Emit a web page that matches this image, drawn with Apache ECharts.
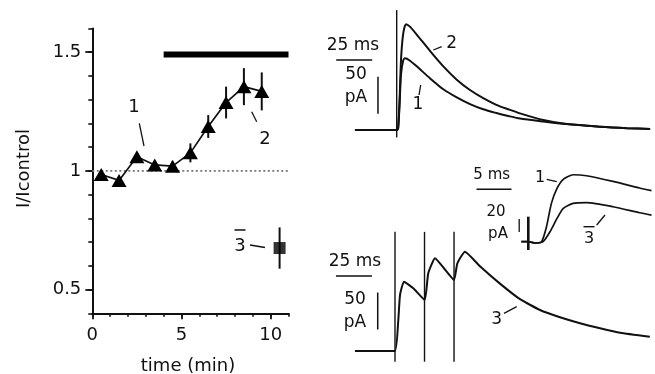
<!DOCTYPE html>
<html><head><meta charset="utf-8">
<script src="https://cdn.jsdelivr.net/npm/echarts@6/dist/echarts.min.js"></script>
<style>html,body{margin:0;padding:0;background:#fff}#c{width:655px;height:374px}</style>
</head><body><div id="c"></div>
<script>
// ---- left panel: I/Icontrol vs time ----
const timeMin = [0.5, 1.5, 2.5, 3.5, 4.5, 5.5, 6.5, 7.5, 8.5, 9.5];
const ratio = [0.985, 0.96, 1.06, 1.025, 1.02, 1.076, 1.187, 1.288, 1.355, 1.335];
const ratioErr = [0.015, 0.02, 0.015, 0.012, 0.02, 0.04, 0.048, 0.067, 0.078, 0.08];
const recoveryTime = [10.5];
const recoveryRatio = [0.675];
const recoveryErr = [0.087];
const drugBar = [4, 11];
const drugBarLevel = 1.49;
const controlLevel = 1;
const yTickLabels = [0.5, 1, 1.5];
const xTickLabels = [0, 5, 10];

// ---- top traces (ms, pA) ----
const trace1 = [[-29,0],[-15,0],[0,0],[1,2],[2,35],[3,75],[4.5,94],[5.8,97],[9,94],[13.9,86],[23.1,70],[32.4,55],[41.7,44],[50.9,35],[60.1,28],[69.2,23],[77.5,19],[85.6,15.5],[101.8,11.5],[118,8],[141,4.5],[160,2.5],[176,1.4]];
const trace2 = [[-29,0],[-15,0],[0,0],[1,3],[2,40],[3,95],[4.5,130],[6.5,143],[9,140],[13.9,129],[23.1,107],[32.4,86],[41.7,68],[50.9,54],[60.1,43],[69.2,34],[77.5,28],[85.6,22.5],[101.8,13.5],[118,8],[141,4.5],[160,2.5],[176,1.4]];
const topArtifact = [[0,-10],[0,162]];
const topScaleMs = [[-42,94.6],[-17,94.6]];
const topScalePA = [[-13,22],[-13,72]];

// ---- bottom train trace (ms, pA) ----
const trace3 = [[-27.8,0],[-10,0],[0,0],[2.3,42],[3.5,75.7],[6.25,93.6],[12.7,84.7],[20.6,69],[23.1,105],[27.8,125.3],[34.4,110.8],[41,96],[43.3,118.5],[48.6,134.2],[59,114.5],[72.9,91],[86.8,70],[100.7,55.4],[114.6,45.5],[128.5,37.4],[142.4,30.7],[156.3,24.7],[177,19.3]];
const trainArtifacts = [0, 20.5, 41];
const artifactRange = [-14.5, 161];
const botScaleMs = [[-41,101.4],[-16,101.4]];
const botScalePA = [[-12,29],[-12,79]];

// ---- inset (ms, pA) ----
const inset1 = [[-1,0],[0,0],[1,-2],[1.9,0],[2.6,23],[3.3,59],[4.1,82],[5.0,96],[6.4,103],[8.3,101.5],[12.1,92.8],[15.9,82.6],[17.6,78.5]];
const inset3 = [[-1,0],[0,0],[1,-2],[2.1,0],[3.1,15.4],[4.1,35.8],[5.0,51.2],[6.4,59],[8.3,60],[12.1,53.8],[15.9,44.6],[17.6,41]];
const insetArtifact = [[0,-12.8],[0,38.5]];
const insetScaleMs = [[-7.4,80.6],[-2.4,80.6]];
const insetScalePA = [[-1.3,15],[-1.3,35]];

const FONT = 'DejaVu Sans';
const INK = '#111';
const chart = echarts.init(document.getElementById('c'));

function errItem(params, api) {
  const x = api.value(0), c = api.value(1), e = api.value(2);
  const p1 = api.coord([x, c - e]), p2 = api.coord([x, c + e]);
  return { type: 'line', shape: { x1: p1[0], y1: p1[1], x2: p2[0], y2: p2[1] },
           style: { stroke: INK, lineWidth: 2 } };
}
function traceSeries(data, idx, w, smooth) {
  return { type: 'line', xAxisIndex: idx, yAxisIndex: idx, data: data, symbol: 'none',
           smooth: smooth || 0, clip: false, lineStyle: { color: INK, width: w || 2 }, z: 3 };
}
function txt(s, x, y, size, extra) {
  return Object.assign({ type: 'text', x: x, y: y, style: { text: s, fill: INK, font: size + 'px "' + FONT + '"',
    align: 'center', verticalAlign: 'middle' } }, extra || {});
}
function ln(x1, y1, x2, y2, w) {
  return { type: 'line', shape: { x1: x1, y1: y1, x2: x2, y2: y2 }, style: { stroke: INK, lineWidth: w || 1.3 } };
}
const gridBase = { containLabel: false, outerBoundsMode: 'none' };

const series = [
  { type: 'line', xAxisIndex: 0, yAxisIndex: 0, data: [[0, controlLevel], [11, controlLevel]], symbol: 'none',
    lineStyle: { color: '#777', width: 1.6, type: [2, 2.5] }, z: 1 },
  { type: 'line', xAxisIndex: 0, yAxisIndex: 0, data: drugBar.map(v => [v, drugBarLevel]), symbol: 'none',
    lineStyle: { color: '#000', width: 6, cap: 'butt' } },
  { type: 'custom', xAxisIndex: 0, yAxisIndex: 0, renderItem: errItem, encode: { x: 0, y: 1 },
    data: timeMin.map((t, i) => [t, ratio[i], ratioErr[i]]), z: 4 },
  { type: 'line', xAxisIndex: 0, yAxisIndex: 0, data: timeMin.map((t, i) => [t, ratio[i]]),
    symbol: 'triangle', symbolSize: [15, 13], itemStyle: { color: '#000' },
    lineStyle: { color: INK, width: 1.7 }, z: 5 },
  { type: 'custom', xAxisIndex: 0, yAxisIndex: 0, renderItem: errItem, encode: { x: 0, y: 1 },
    data: recoveryTime.map((t, i) => [t, recoveryRatio[i], recoveryErr[i]]), z: 4 },
  { type: 'scatter', xAxisIndex: 0, yAxisIndex: 0, data: recoveryTime.map((t, i) => [t, recoveryRatio[i]]),
    symbol: 'rect', symbolSize: 12, itemStyle: { color: '#000' }, z: 5 },
  // top traces
  traceSeries(trace1, 2, 2, 0.25),
  traceSeries(trace2, 2, 2, 0.25),
  traceSeries(topArtifact, 2, 1.4),
  traceSeries(topScaleMs, 2, 1.5),
  traceSeries(topScalePA, 2, 1.5),
  // bottom
  traceSeries(trace3, 3, 2, 0.15),
  ...trainArtifacts.map(t => traceSeries(artifactRange.map(v => [t, v]), 3, 1.4)),
  traceSeries(botScaleMs, 3, 1.5),
  traceSeries(botScalePA, 3, 1.5),
  // inset
  traceSeries(inset1, 4, 1.7, 0.2),
  traceSeries(inset3, 4, 1.7, 0.2),
  traceSeries(insetArtifact, 4, 2.6),
  traceSeries(insetScaleMs, 4, 1.5),
  traceSeries(insetScalePA, 4, 1.3)
];

const option = {
  backgroundColor: '#fff',
  animation: false,
  textStyle: { fontFamily: FONT },
  grid: [
    Object.assign({ left: 92.3, top: 28.5, width: 196.2, height: 284.8 }, gridBase),
    Object.assign({ left: 331.9, top: 7.9, width: 321.1, height: 131.0 }, gridBase),
    Object.assign({ left: 330.2, top: 228.9, width: 321.1, height: 133.9 }, gridBase),
    Object.assign({ left: 472.3, top: 170.2, width: 182, height: 81.25 }, gridBase)
  ],
  xAxis: [
    { type: 'value', gridIndex: 0, min: 0, max: 11, interval: 1, position: 'bottom',
      axisLine: { lineStyle: { color: INK, width: 2 } }, axisTick: { length: 3.5, lineStyle: { color: INK, width: 1.6 } },
      axisLabel: { show: false }, splitLine: { show: false } },
    { type: 'value', gridIndex: 0, min: 0, max: 11, position: 'bottom',
      axisLine: { show: false }, axisTick: { length: 6, lineStyle: { color: INK, width: 1.8 }, customValues: xTickLabels },
      axisLabel: { customValues: xTickLabels, fontSize: 18, color: INK, fontFamily: FONT, margin: 13 }, splitLine: { show: false } },
    { type: 'value', gridIndex: 1, min: -45, max: 178, show: false },
    { type: 'value', gridIndex: 2, min: -45, max: 178, show: false },
    { type: 'value', gridIndex: 3, min: -8, max: 18, show: false }
  ],
  yAxis: [
    { type: 'value', gridIndex: 0, min: 0.4, max: 1.6, interval: 0.1, position: 'left',
      axisLine: { show: true, lineStyle: { color: INK, width: 2 } }, axisTick: { show: true, length: 4, lineStyle: { color: INK, width: 1.6 } },
      axisLabel: { show: false }, splitLine: { show: false } },
    { type: 'value', gridIndex: 0, min: 0.4, max: 1.6, position: 'left',
      axisLine: { show: false }, axisTick: { show: true, length: 7, lineStyle: { color: INK, width: 1.8 }, customValues: yTickLabels },
      axisLabel: { customValues: yTickLabels, fontSize: 18, color: INK, fontFamily: FONT, margin: 11 }, splitLine: { show: false } },
    { type: 'value', gridIndex: 1, min: -12, max: 165, show: false },
    { type: 'value', gridIndex: 2, min: -16, max: 165, show: false },
    { type: 'value', gridIndex: 3, min: -15, max: 110, show: false }
  ],
  series: series,
  graphic: [
    txt('I/Icontrol', 24.5, 168.5, 18, { rotation: Math.PI / 2 }),
    txt('time (min)', 188, 366, 18),
    txt('1', 134, 107.5, 18), ln(139.3, 123.3, 144, 146),
    txt('2', 265, 139.5, 18), ln(251.7, 111.7, 256.7, 121.7),
    txt('3', 240, 246, 18), ln(234.5, 230, 245.5, 230, 1.5), ln(250, 245, 265, 247.5),
    // top traces
    txt('25 ms', 353, 46, 17),
    txt('50', 356, 75, 17), txt('pA', 356, 98, 17),
    txt('2', 451.7, 44, 17), ln(433.3, 50, 441.7, 46.7),
    txt('1', 418, 105, 17), ln(420.7, 85, 419, 95),
    // bottom
    txt('25 ms', 355, 262, 17),
    txt('50', 355, 300, 17), txt('pA', 355, 323, 17),
    txt('3', 496.7, 320, 17), ln(504, 313.3, 516.7, 306.7),
    // inset
    txt('5 ms', 491.7, 175, 15),
    txt('20', 496, 212.5, 15), txt('pA', 498, 234, 15),
    txt('1', 540, 178, 16), ln(546.7, 179.3, 556.7, 181.7),
    txt('3', 589, 239, 16), ln(583.5, 226.7, 594.5, 226.7, 1.4), ln(596.7, 225, 605, 215)
  ]
};
chart.setOption(option);
</script></body></html>
